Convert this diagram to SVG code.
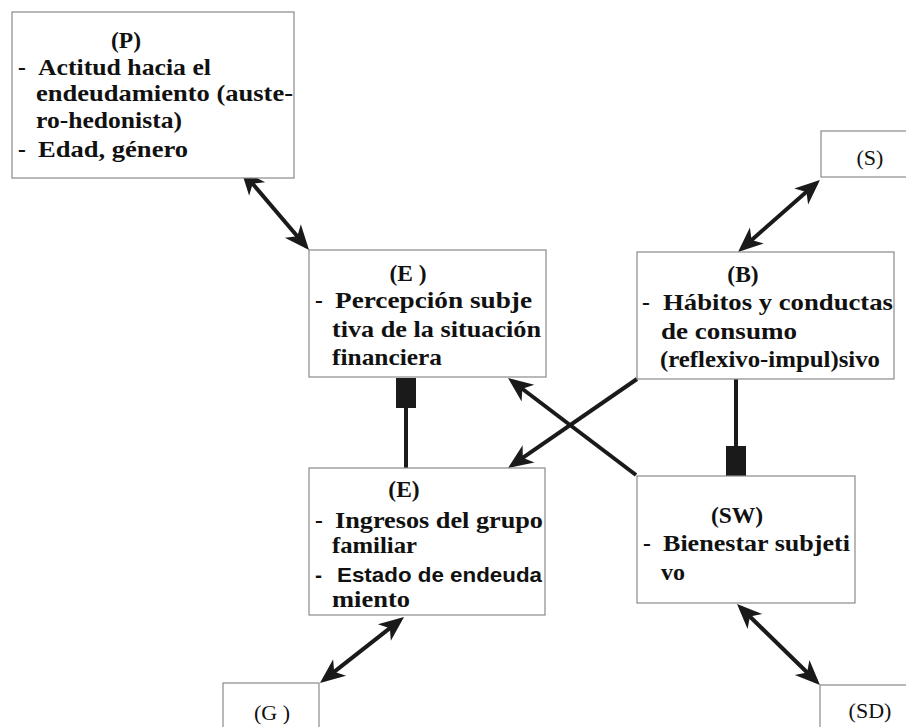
<svg xmlns="http://www.w3.org/2000/svg" width="906" height="727" viewBox="0 0 906 727">
<style>
.box{fill:#fff;stroke:#8a8a8a;stroke-width:1.2}
.t{font-family:"Liberation Serif","Times New Roman",serif;font-weight:bold;font-size:23.5px;fill:#111}
.r{font-family:"Liberation Serif","Times New Roman",serif;font-size:22px;fill:#111}
.s{font-family:"Liberation Sans",Arial,sans-serif;font-weight:bold;font-size:21px;fill:#111}
.ln{stroke:#1a1a1a;stroke-width:4;fill:none}
.ar{stroke:#1a1a1a;stroke-width:4;fill:none;marker-start:url(#ah);marker-end:url(#ah)}
.ar1{stroke:#1a1a1a;stroke-width:4;fill:none;marker-end:url(#ah)}
.blk{fill:#1a1a1a}
</style>
<defs>
<marker id="ah" markerUnits="userSpaceOnUse" viewBox="-27 -12 29 24" refX="-5" refY="0" markerWidth="29" markerHeight="24" orient="auto-start-reverse">
<path d="M0,0 L-25,-10.5 L-18,0 L-25,10.5 Z" fill="#1a1a1a"/>
</marker>
</defs>

<g id="connectors">
<path class="ar" d="M244.2,173.8 L305.8,246.2"/>
<path class="ar" d="M741.8,248.7 L816.2,183.3"/>
<path class="ar" d="M400.1,620.1 L323.9,679.9"/>
<path class="ar" d="M740.6,607.5 L816.4,681.5"/>
<path class="ar1" d="M636,475 L512,381"/>
<path class="ar1" d="M637,379 L512.1,465.2"/>
<path class="ln" d="M406,378 L406,468"/>
<rect class="blk" x="396" y="378" width="20" height="30"/>
<path class="ln" d="M736,379 L736,476"/>
<rect class="blk" x="726" y="446" width="20" height="30"/>
</g>

<g id="node-P">
<rect class="box" x="12" y="12" width="282" height="166"/>
<text class="t" x="126" y="48" text-anchor="middle">(P)</text>
<text class="t" x="18" y="75">-</text>
<text class="t" x="38" y="75" textLength="173" lengthAdjust="spacingAndGlyphs">Actitud hacia el</text>
<text class="t" x="36" y="101" textLength="257" lengthAdjust="spacingAndGlyphs">endeudamiento (auste-</text>
<text class="t" x="36" y="128" textLength="146" lengthAdjust="spacingAndGlyphs">ro-hedonista)</text>
<text class="t" x="18" y="157">-</text>
<text class="t" x="38" y="157" textLength="150" lengthAdjust="spacingAndGlyphs">Edad, género</text>
</g>

<g id="node-S">
<rect class="box" x="821" y="131" width="100" height="46"/>
<text class="r" x="870" y="165" text-anchor="middle">(S)</text>
</g>

<g id="node-E">
<rect class="box" x="309" y="250" width="237" height="127"/>
<text class="t" x="408" y="281" text-anchor="middle">(E )</text>
<text class="t" x="315" y="308">-</text>
<text class="t" x="335" y="308" textLength="197" lengthAdjust="spacingAndGlyphs">Percepción  subje</text>
<text class="t" x="332" y="337" textLength="209" lengthAdjust="spacingAndGlyphs">tiva de la situación</text>
<text class="t" x="332" y="365" textLength="110" lengthAdjust="spacingAndGlyphs">financiera</text>
</g>

<g id="node-B">
<rect class="box" x="637" y="252" width="257" height="127"/>
<text class="t" x="743" y="282" text-anchor="middle">(B)</text>
<text class="t" x="642" y="310">-</text>
<text class="t" x="663" y="310" textLength="230" lengthAdjust="spacingAndGlyphs">Hábitos y conductas</text>
<text class="t" x="661" y="339" textLength="136" lengthAdjust="spacingAndGlyphs">de consumo</text>
<text class="t" x="660" y="367" textLength="220" lengthAdjust="spacingAndGlyphs">(reflexivo-impul)sivo</text>
</g>

<g id="node-F">
<rect class="box" x="309" y="468" width="236" height="147"/>
<text class="t" x="404" y="497" text-anchor="middle">(E)</text>
<text class="t" x="315" y="528">-</text>
<text class="t" x="335" y="528" textLength="208" lengthAdjust="spacingAndGlyphs">Ingresos del grupo</text>
<text class="t" x="332" y="553" textLength="85" lengthAdjust="spacingAndGlyphs">familiar</text>
<text class="s" x="315" y="582">-</text>
<text class="s" x="337" y="582" textLength="205" lengthAdjust="spacingAndGlyphs">Estado de endeuda</text>
<text class="t" x="332" y="607" textLength="78" lengthAdjust="spacingAndGlyphs">miento</text>
</g>

<g id="node-SW">
<rect class="box" x="637" y="476" width="218" height="127"/>
<text class="t" x="737" y="523" text-anchor="middle">(SW)</text>
<text class="t" x="643" y="551">-</text>
<text class="t" x="663" y="551" textLength="187" lengthAdjust="spacingAndGlyphs">Bienestar subjeti</text>
<text class="t" x="661" y="580" textLength="24" lengthAdjust="spacingAndGlyphs">vo</text>
</g>

<g id="node-G">
<rect class="box" x="223" y="683" width="96" height="60"/>
<text class="r" x="272" y="720" text-anchor="middle">(G )</text>
</g>

<g id="node-SD">
<rect class="box" x="820" y="685" width="100" height="60"/>
<text class="r" x="870" y="718" text-anchor="middle">(SD)</text>
</g>
</svg>
